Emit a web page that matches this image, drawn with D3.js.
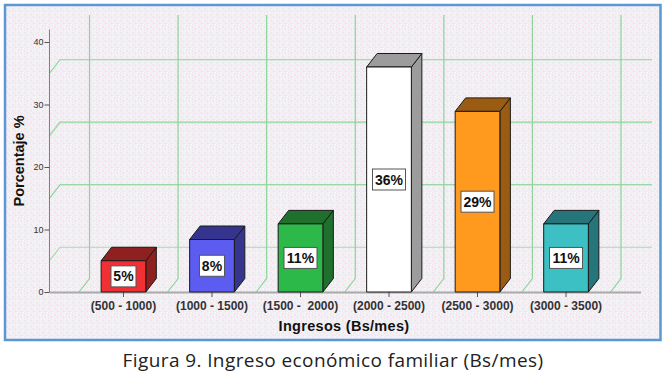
<!DOCTYPE html>
<html><head><meta charset="utf-8">
<style>html,body{margin:0;padding:0;background:#fff}svg{display:block}text{white-space:pre}</style>
<script src="https://cdn.jsdelivr.net/npm/d3@7/dist/d3.min.js"></script></head>
<body><script>
const categories = ["(500 - 1000)","(1000 - 1500)","(1500 -  2000)","(2000 - 2500)","(2500 - 3000)","(3000 - 3500)"];
const values = [5,8.4,10.9,36,28.9,10.9];
const labels = ["5%","8%","11%","36%","29%","11%"];
const frontColors = ["#f03035","#5c5cf0","#2db84a","#ffffff","#ff9a1e","#3cc0c4"];
const topColors = ["#8e2020","#35358f","#1f6f2d","#9c9c9c","#9a5c12","#26757a"];
const yTicks = [0,10,20,30,40];
const gridValues = [5,15,25,35];
const gridColors = ["#a4dcae","#7fd090","#a8dfb2","#8cd49a"];
const yTitle = "Porcentaje %", xTitle = "Ingresos (Bs/mes)", caption = "Figura 9. Ingreso económico familiar (Bs/mes)";

const W=668,H=380, dx=10.5, dy=13.5;
const svg=d3.select("body").append("svg").attr("width",W).attr("height",H);
const x=d3.scaleBand().domain(categories).range([79,610.5]).paddingInner(0.495).paddingOuter(0.25);
const band=d3.scaleBand().domain(categories).range([79,610.5]);
const y=d3.scaleLinear().domain([0,42]).range([292,29.5]);

const defs=svg.append("defs");
const pat=defs.append("pattern").attr("id","dither").attr("width",6).attr("height",6).attr("patternUnits","userSpaceOnUse");
pat.append("rect").attr("width",6).attr("height",6).attr("fill","#f0f1f3");
[[0,0,"#f8dff0"],[3,1,"#dff4e4"],[1,2,"#dfe3fa"],[4,3,"#fbf7dc"],[2,4,"#f8e0ee"],[5,5,"#dcf2ea"],[5,0,"#ffffff"],[0,3,"#e2e6f8"],[2,1,"#fbf8e4"],[3,5,"#e0e2f6"]].forEach(d=>pat.append("rect").attr("x",d[0]).attr("y",d[1]).attr("width",1).attr("height",1).attr("fill",d[2]));

svg.append("rect").attr("x",5).attr("y",5).attr("width",655.5).attr("height",335).attr("fill","url(#dither)").attr("stroke","#5b97d5").attr("stroke-width",2.5);

const g=svg.append("g").attr("fill","none");
gridValues.forEach((v,i)=>{
  const yy=y(v);
  g.append("path").attr("d",`M49.5,${yy}L${49.5+dx},${yy-dy}H652`).attr("stroke",gridColors[i]).attr("stroke-width",i==2?2:1.2);
});
categories.concat(["end"]).forEach((c,i)=>{
  const xx=(i<6?band(c):band.range()[1]);
  g.append("path").attr("d",`M${xx},292L${xx+dx},${292-dy}V15`).attr("stroke","#8cd49a").attr("stroke-width",1.2);
});

// axes
svg.append("line").attr("x1",49.5).attr("x2",641).attr("y1",292.5).attr("y2",292.5).attr("stroke","#aaaaaa").attr("stroke-width",2);
const ay=svg.append("g").attr("transform","translate(49.5,0)").call(d3.axisLeft(y).tickValues(yTicks).tickSize(5).tickPadding(1));
ay.select(".domain").attr("stroke","#808080").attr("d","M0,29.5V292");
ay.selectAll("line").attr("stroke","#555");
ay.selectAll("text").attr("font-family","Liberation Sans").attr("font-size",9).attr("fill","#333");

const ax=svg.append("g").attr("transform","translate(0,292)").call(d3.axisBottom(x).tickSize(5).tickPadding(2));
ax.select(".domain").remove();
ax.selectAll("line").attr("stroke","#555");
ax.selectAll("text").attr("font-family","Liberation Sans").attr("font-size",12).attr("font-weight","bold").attr("fill","#333").attr("dy","0.9em");

// bars
const bars=svg.selectAll("g.bar").data(categories).join("g").attr("class","bar");
bars.each(function(c,i){
  const s=d3.select(this), l=x(c), r=l+x.bandwidth(), t=y(values[i]), b=y(0);
  s.append("polygon").attr("points",`${r},${t} ${r+dx},${t-dy} ${r+dx},${b-dy} ${r},${b}`).attr("fill",topColors[i]);
  s.append("polygon").attr("points",`${l},${t} ${l+dx},${t-dy} ${r+dx},${t-dy} ${r},${t}`).attr("fill",topColors[i]);
  s.append("rect").attr("x",l).attr("y",t).attr("width",x.bandwidth()).attr("height",b-t).attr("fill",frontColors[i]);
  s.selectAll("polygon,rect").attr("stroke","#1a1a1a").attr("stroke-width",1).attr("stroke-linejoin","round");
  const cx=(l+r)/2, cy=(t+b)/2;
  const bw=labels[i].length>2?33:25, bh=21;
  s.append("rect").attr("x",cx-bw/2).attr("y",cy-bh/2).attr("width",bw).attr("height",bh).attr("fill","#fff").attr("stroke","#555").attr("stroke-width",1);
  s.append("text").attr("x",cx).attr("y",cy+5).attr("text-anchor","middle").attr("font-family","Liberation Sans").attr("font-size",14).attr("font-weight","bold").attr("fill","#111").text(labels[i]);
});

svg.append("text").attr("transform","translate(24,161) rotate(-90)").attr("text-anchor","middle").attr("font-family","Liberation Sans").attr("font-size",14.5).attr("font-weight","bold").attr("fill","#111").text(yTitle);
svg.append("text").attr("x",344).attr("y",331).attr("text-anchor","middle").attr("font-family","Liberation Sans").attr("font-size",14.5).attr("letter-spacing",0.3).attr("font-weight","bold").attr("fill","#111").text(xTitle);
svg.append("text").attr("x",333).attr("y",367).attr("text-anchor","middle").attr("font-family","Open Sans").attr("font-size",19).attr("letter-spacing",0.4).attr("fill","#222").text(caption);
</script></body></html>
